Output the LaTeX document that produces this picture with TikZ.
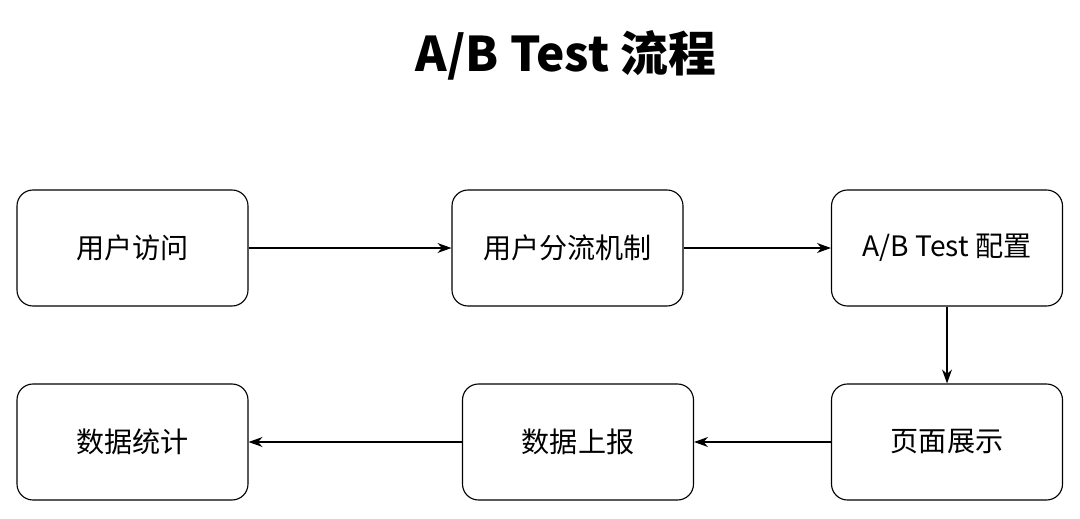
\documentclass[tikz,border=0pt]{standalone}
\usepackage{fontspec}
\setmainfont{Noto Sans CJK SC}
\usetikzlibrary{positioning,arrows.meta}
\tikzset{
  stage/.style={draw,thick,rounded corners=0.4cm,minimum width=5.775cm,minimum height=2.9cm,font=\fontsize{20}{24}\selectfont},
  flow/.style={-{Stealth[length=0.35cm,width=0.25cm]},thick}
}
\begin{document}
\begin{tikzpicture}
    \useasboundingbox (0,0) rectangle (27,12.95);
    \node[font=\fontsize{34}{40}\selectfont\bfseries] (title) at (14.15,11.575) {A/B Test 流程};
    \node[stage] (visit) at (3.3125,6.75) {用户访问};
    \node[stage] (split) at (14.1875,6.75) {用户分流机制};
    \node[stage] (conf) at (23.675,6.75) {A/B Test 配置};
    \node[stage] (show) at (23.675,1.9) {页面展示};
    \node[stage] (report) at (14.45,1.9) {数据上报};
    \node[stage] (stat) at (3.3125,1.9) {数据统计};
    \draw[flow] (visit)--(split);
    \draw[flow] (split)--(conf);
    \draw[flow] (conf)--(show);
    \draw[flow] (show)--(report);
    \draw[flow] (report)--(stat);
\end{tikzpicture}
\end{document}
